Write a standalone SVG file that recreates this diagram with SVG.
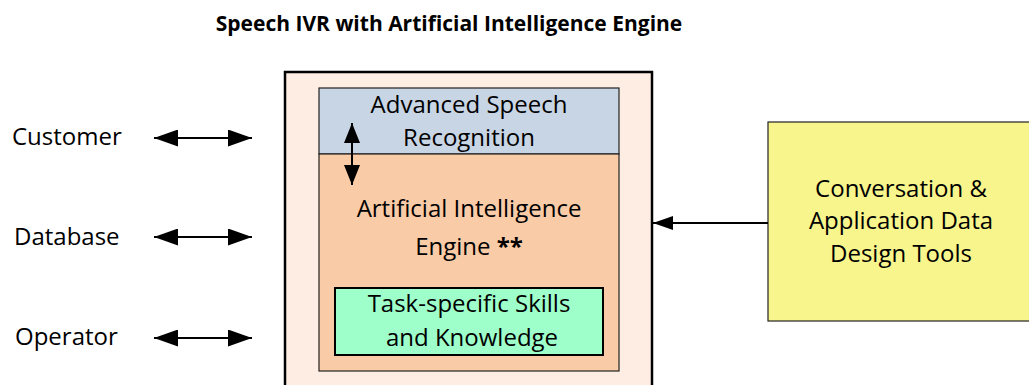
<svg xmlns="http://www.w3.org/2000/svg" width="1029" height="385" viewBox="0 0 1029 385">
<style>
text{font-family:"Open Sans","Liberation Sans",sans-serif;fill:#000;}
.lbl{font-size:24px;}
.c{text-anchor:middle;}
.ln{stroke:#000;stroke-width:2;fill:none;}
</style>
<defs>
<marker id="ah" markerUnits="userSpaceOnUse" markerWidth="24" markerHeight="17" refX="24" refY="8.5" orient="auto-start-reverse" viewBox="0 0 24 17"><path d="M0,0 L24,8.5 L0,17 Z" fill="#000"/></marker>
<marker id="ahs" markerUnits="userSpaceOnUse" markerWidth="20" markerHeight="16" refX="20" refY="8" orient="auto-start-reverse" viewBox="0 0 20 16"><path d="M0,0 L20,8 L0,16 Z" fill="#000"/></marker>
<marker id="ahr" markerUnits="userSpaceOnUse" markerWidth="20" markerHeight="14" refX="20" refY="7" orient="auto" viewBox="0 0 20 14"><path d="M0,0 L20,7 L0,14 Z" fill="#000"/></marker>
</defs>
<rect width="1029" height="385" fill="#fff"/>
<text x="449" y="31" class="c" style="font-size:21px;font-weight:bold">Speech IVR with Artificial Intelligence Engine</text>

<g id="customer"><text x="12" y="145" class="lbl">Customer</text></g>
<g id="database"><text x="14" y="245" class="lbl">Database</text></g>
<g id="operator"><text x="15" y="345" class="lbl">Operator</text></g>

<g id="ivr">
<rect x="285" y="72" width="367" height="330" fill="#fdede2" stroke="#000" stroke-width="2.5"/>
</g>
<g id="asr">
<rect x="319" y="88" width="300" height="66" fill="#c8d5e4" stroke="#222" stroke-width="1.2"/>
<text x="469" y="113" class="lbl c">Advanced Speech</text>
<text x="469" y="146" class="lbl c">Recognition</text>
</g>
<g id="ai">
<rect x="319" y="154" width="300" height="217" fill="#f9cba6" stroke="#222" stroke-width="1.2"/>
<text x="469" y="217" class="lbl c">Artificial Intelligence</text>
<text x="469" y="255" class="lbl c">Engine <tspan font-weight="bold">**</tspan></text>
</g>
<g id="skills">
<rect x="335" y="288" width="268" height="67" fill="#9effca" stroke="#000" stroke-width="2"/>
<text x="469" y="312" class="lbl c">Task-specific Skills</text>
<text x="472" y="346" class="lbl c">and Knowledge</text>
</g>
<g id="tools">
<rect x="768" y="122" width="262" height="199" fill="#f7f58c" stroke="#222" stroke-width="1.2"/>
<text x="901" y="197" class="lbl c">Conversation &amp;</text>
<text x="901" y="229" class="lbl c">Application Data</text>
<text x="901" y="262" class="lbl c">Design Tools</text>
</g>

<g id="connectors">
<line x1="154" y1="138" x2="252" y2="138" class="ln" marker-start="url(#ah)" marker-end="url(#ah)"/>
<line x1="154" y1="237" x2="252" y2="237" class="ln" marker-start="url(#ah)" marker-end="url(#ah)"/>
<line x1="154" y1="338" x2="252" y2="338" class="ln" marker-start="url(#ah)" marker-end="url(#ah)"/>
<line x1="352" y1="123" x2="352" y2="185" class="ln" marker-start="url(#ahs)" marker-end="url(#ahs)"/>
<line x1="768" y1="223" x2="653" y2="223" class="ln" stroke-width="1.5" marker-end="url(#ahr)"/>
</g>
</svg>
